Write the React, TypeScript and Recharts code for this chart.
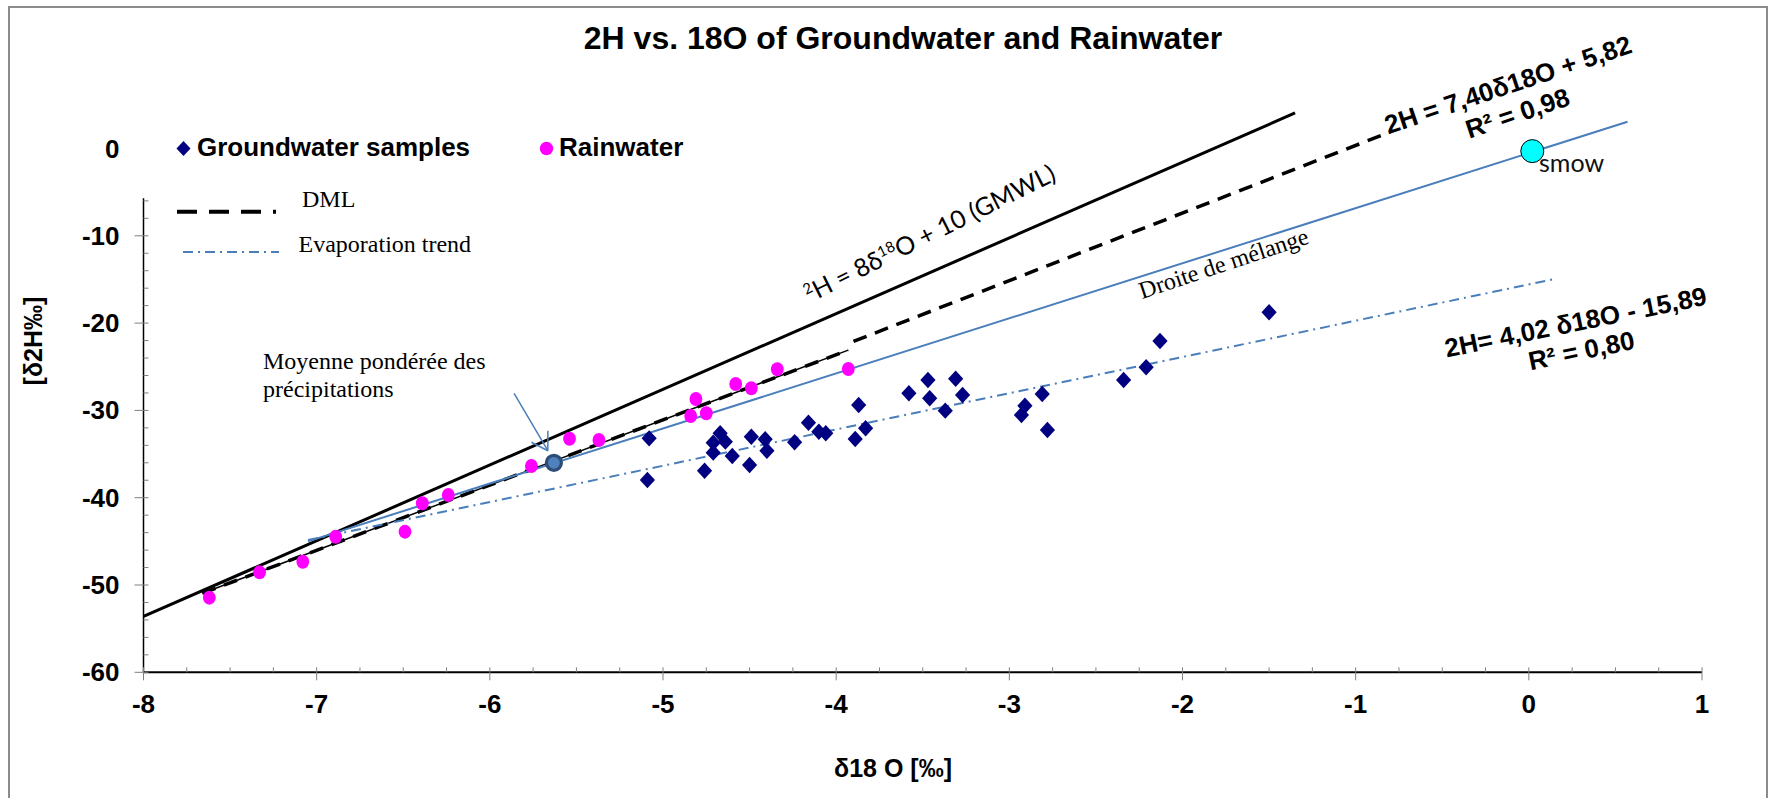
import {
  ComposedChart,
  Scatter,
  Line,
  XAxis,
  YAxis,
  ReferenceLine,
} from 'recharts';

// Groundwater samples (δ18O, δ2H)
const gwO18 = [
  -5.08, -5.09, -4.76, -4.67, -4.71, -4.64, -4.71, -4.6, -4.49, -4.5, -4.41,
  -4.4, -4.24, -4.16, -4.1, -4.06, -3.89, -3.83, -3.87, -3.58, -3.47, -3.46,
  -3.37, -3.31, -3.27, -2.93, -2.91, -2.81, -2.78, -2.34, -2.21, -2.13, -1.5,
];
const gwH2 = [
  -33.2, -37.97, -36.91, -32.62, -33.7, -33.58, -34.84, -35.22, -33.01, -36.25,
  -33.31, -34.62, -33.65, -31.41, -32.44, -32.62, -33.28, -32.05, -29.38,
  -28.04, -26.52, -28.61, -30.03, -26.37, -28.24, -30.53, -29.46, -28.12,
  -32.24, -26.52, -25.06, -22.05, -18.76,
];

// Rainwater samples
const rainO18 = [
  -7.62, -7.33, -7.08, -6.89, -6.49, -6.39, -6.24, -5.76, -5.54, -5.37, -4.84,
  -4.75, -4.81, -4.58, -4.49, -4.34, -3.93,
];
const rainH2 = [
  -51.45, -48.55, -47.33, -44.47, -43.89, -40.64, -39.69, -36.37, -33.24,
  -33.39, -30.64, -30.33, -28.69, -26.98, -27.47, -25.29, -25.26,
];

// drawn lines (end points)
const gmwlLine = [{ x: -8, y: -53.6 }, { x: -1.35, y: 4.07 }];
const rainTrend = [{ x: -7.66, y: -50.95 }, { x: -3.93, y: -23.1 }];
const dmlUpper = [{ x: -3.9, y: -22.1 }, { x: -0.8, y: 1.9 }];
const mixingLine = [{ x: -7.05, y: -45.0 }, { x: 0.57, y: 3.07 }];
const evaporationLine = [{ x: -7.05, y: -44.85 }, { x: 0.15, y: -14.95 }];

const meanRain = [{ x: -5.63, y: -36.0 }];
const smow = [{ x: 0.02, y: -0.3 }];

const xTicks = Array.from({ length: 37 }, (_, i) => -8 + i * 0.25);
const yTicks = Array.from({ length: 31 }, (_, i) => -60 + i * 2);

const groundwater = gwO18.map((x, i) => ({ x, y: gwH2[i] }));
const rainwater = rainO18.map((x, i) => ({ x, y: rainH2[i] }));

const AXIS_X = 143.5;
const AXIS_Y = 672.3;
const SANS = '"Liberation Sans", Arial, sans-serif';
const SERIF = '"Liberation Serif", "Times New Roman", serif';
const BLUE = '#4a7ebb';

function XTick(props: any) {
  const { x, payload } = props;
  const v = payload.value;
  const major = Math.abs(v - Math.round(v)) < 1e-6;
  return (
    <g>
      <line x1={x} x2={x} y1={AXIS_Y - 5} y2={major ? AXIS_Y + 8 : AXIS_Y} stroke="#808080" strokeWidth={1} />
      {major && (
        <text x={x} y={AXIS_Y + 41} textAnchor="middle" fontFamily={SANS} fontWeight="bold" fontSize={26} fill="#000">
          {Math.round(v)}
        </text>
      )}
    </g>
  );
}

function YTick(props: any) {
  const { y, payload } = props;
  const v = payload.value;
  const major = Math.abs(v % 10) < 1e-6;
  return (
    <g>
      {v <= -6 && (
        <line x1={major ? AXIS_X - 9 : AXIS_X} x2={AXIS_X + 5} y1={y} y2={y} stroke="#808080" strokeWidth={1} />
      )}
      {major && (
        <text x={AXIS_X - 24} y={y + 9} textAnchor="end" fontFamily={SANS} fontWeight="bold" fontSize={26} fill="#000">
          {v}
        </text>
      )}
    </g>
  );
}

const Diamond = (props: any) => {
  const { cx, cy } = props;
  return <polygon points={`${cx},${cy - 8.2} ${cx + 7.6},${cy} ${cx},${cy + 8.2} ${cx - 7.6},${cy}`} fill="#000080" />;
};
const RainDot = (props: any) => <ellipse cx={props.cx} cy={props.cy} rx={6.4} ry={7} fill="#ff00ff" />;
const MeanDot = (props: any) => (
  <circle cx={props.cx} cy={props.cy} r={7.5} fill="#4f81bd" stroke="#2c4d75" strokeWidth={3.2} />
);
const SmowDot = (props: any) => (
  <circle cx={props.cx} cy={props.cy} r={11.5} fill="#00ffff" stroke="#000" strokeWidth={1} />
);

export default function App() {
  return (
    <div style={{ position: 'absolute', left: 0, top: 0, width: 1775, height: 798, overflow: 'hidden', background: '#fff' }}>
      <div
        style={{
          position: 'absolute', left: 8, top: 6, width: 1760, height: 800,
          border: '2px solid #8c8c8c', boxSizing: 'border-box',
        }}
      />
      <div style={{ position: 'absolute', left: 0, top: 0 }}>
        <ComposedChart width={1775} height={798} margin={{ top: 104.85, right: 73, bottom: 65.7, left: 0 }}>
          <XAxis
            type="number"
            dataKey="x"
            domain={[-8, 1]}
            ticks={xTicks}
            interval={0}
            height={60}
            tick={<XTick />}
            tickLine={false}
            axisLine={{ stroke: '#000', strokeWidth: 2 }}
          />
          <YAxis
            type="number"
            dataKey="y"
            domain={[-60, 5]}
            ticks={yTicks}
            interval={0}
            width={143.5}
            tick={<YTick />}
            tickLine={false}
            axisLine={false}
          />
          <ReferenceLine segment={[{ x: -8, y: -5.7 }, { x: -8, y: -60 }]} stroke="#000" strokeWidth={1.5} ifOverflow="visible" />
          <Scatter data={smow} shape={<SmowDot />} isAnimationActive={false} />
          <Line data={gmwlLine} dataKey="y" stroke="#000" strokeWidth={3} dot={false} activeDot={false} isAnimationActive={false} />
          <Line data={rainTrend} dataKey="y" stroke="#000" strokeWidth={1.5} dot={false} activeDot={false} isAnimationActive={false} />
          <Line data={rainTrend} dataKey="y" stroke="#000" strokeWidth={3.5} strokeDasharray="14 9" dot={false} activeDot={false} isAnimationActive={false} />
          <Line data={dmlUpper} dataKey="y" stroke="#000" strokeWidth={3.5} strokeDasharray="14 9" dot={false} activeDot={false} isAnimationActive={false} />
          <Line data={mixingLine} dataKey="y" stroke={BLUE} strokeWidth={2} dot={false} activeDot={false} isAnimationActive={false} />
          <Line data={evaporationLine} dataKey="y" stroke={BLUE} strokeWidth={2} strokeDasharray="10 5 2 5" dot={false} activeDot={false} isAnimationActive={false} />
          <Scatter data={rainwater} shape={<RainDot />} isAnimationActive={false} />
          <Scatter data={groundwater} shape={<Diamond />} isAnimationActive={false} />
          <ReferenceLine segment={[{ x: -5.86, y: -28.04 }, { x: -5.665, y: -34.62 }]} stroke={BLUE} strokeWidth={1.5} ifOverflow="visible" />
          <ReferenceLine segment={[{ x: -5.665, y: -32.33 }, { x: -5.665, y: -34.62 }]} stroke={BLUE} strokeWidth={1.5} ifOverflow="visible" />
          <ReferenceLine segment={[{ x: -5.76, y: -33.65 }, { x: -5.665, y: -34.62 }]} stroke={BLUE} strokeWidth={1.5} ifOverflow="visible" />
          <Scatter data={meanRain} shape={<MeanDot />} isAnimationActive={false} />
        </ComposedChart>
      </div>
      <svg width={1775} height={798} style={{ position: 'absolute', left: 0, top: 0, pointerEvents: 'none' }}>
        <text x={903} y={49} textAnchor="middle" fontFamily={SANS} fontWeight="bold" fontSize={32}>
          2H vs. 18O of Groundwater and Rainwater
        </text>

        {/* legend */}
        <polygon points="183.5,141 190.5,148.5 183.5,156 176.5,148.5" fill="#000080" />
        <text x={197} y={156} fontFamily={SANS} fontWeight="bold" fontSize={26}>Groundwater samples</text>
        <circle cx={546.5} cy={148.5} r={6.7} fill="#ff00ff" />
        <text x={559} y={156} fontFamily={SANS} fontWeight="bold" fontSize={26}>Rainwater</text>
        <line x1={177} x2={276} y1={211.7} y2={211.7} stroke="#000" strokeWidth={4} strokeDasharray="20 12" />
        <text x={302} y={207} fontFamily={SERIF} fontSize={24}>DML</text>
        <line x1={183} x2={279} y1={252} y2={252} stroke={BLUE} strokeWidth={2} strokeDasharray="10 5 2 5" />
        <text x={298.5} y={251.7} fontFamily={SERIF} fontSize={24}>Evaporation trend</text>

        {/* annotations */}
        <text transform="translate(810,303) rotate(-26.5)" fontFamily="Lato, sans-serif" fontSize={25}>
          <tspan dy={-9} fontSize={15}>2</tspan>
          <tspan dy={9}>H = 8δ</tspan>
          <tspan dy={-9} fontSize={15}>18</tspan>
          <tspan dy={9}>O + 10 (GMWL)</tspan>
        </text>
        <text transform="translate(1142,299) rotate(-18.4)" fontFamily={SERIF} fontSize={24}>Droite de mélange</text>
        <text x={263} y={369.3} fontFamily={SERIF} fontSize={24}>Moyenne pondérée des</text>
        <text x={263} y={397.3} fontFamily={SERIF} fontSize={24}>précipitations</text>
        <g transform="translate(1510.8,93.3) rotate(-18.5)" fontFamily={SANS} fontWeight="bold" fontSize={26}>
          <text x={0} y={0} textAnchor="middle">2H = 7,40δ18O + 5,82</text>
          <text x={0} y={30} textAnchor="middle">R² = 0,98</text>
        </g>
        <g transform="translate(1577.4,331) rotate(-11.5)" fontFamily={SANS} fontWeight="bold" fontSize={26}>
          <text x={0} y={0} textAnchor="middle">2H= 4,02 δ18O - 15,89</text>
          <text x={0} y={29} textAnchor="middle">R² = 0,80</text>
        </g>
        <text x={1539} y={171.7} fontFamily="Lato, sans-serif" fontSize={25} fill="#111">smow</text>

        {/* axis titles */}
        <text transform="translate(42,341) rotate(-90)" textAnchor="middle" fontFamily={SANS} fontWeight="bold" fontSize={25}>[δ2H‰]</text>
        <text x={893} y={777} textAnchor="middle" fontFamily={SANS} fontWeight="bold" fontSize={25}>δ18 O [‰]</text>
      </svg>
    </div>
  );
}
